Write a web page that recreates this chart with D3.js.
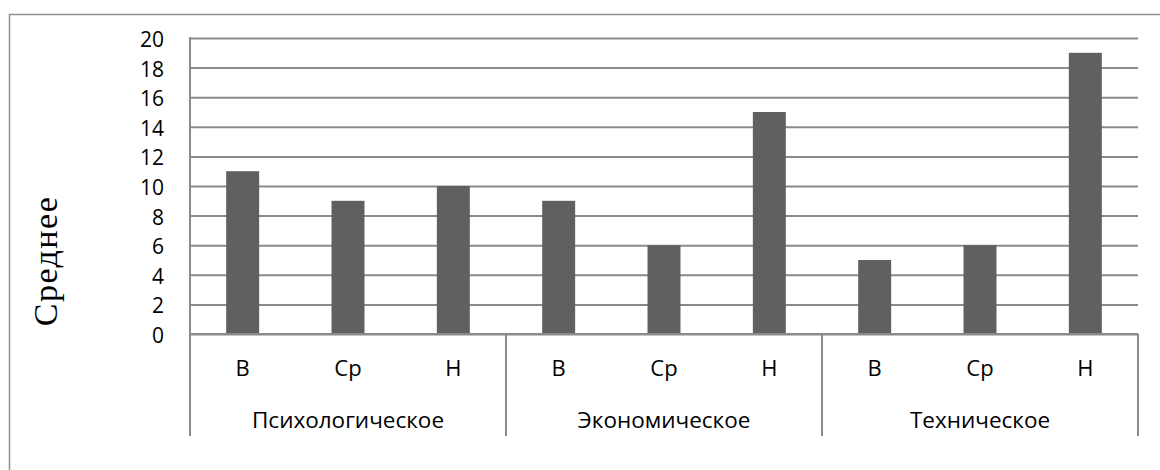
<!DOCTYPE html>
<html>
<head>
<meta charset="utf-8">
<script src="https://cdn.jsdelivr.net/npm/d3@7"></script>
<style>
  html, body { margin: 0; padding: 0; background: #fff; }
  svg { display: block; }
  .tick-label { font-family: "Open Sans", "Noto Sans", sans-serif; fill: #000; }
</style>
</head>
<body>
<svg id="chart" width="1160" height="470"></svg>
<script>
// Mean values by direction (group) and level (В / Ср / Н)
const groups = ["Психологическое", "Экономическое", "Техническое"];
const levels = ["В", "Ср", "Н"];
const psychValues = [11, 9, 10];
const econValues = [9, 6, 15];
const techValues = [5, 6, 19];
const yTicks = [0, 2, 4, 6, 8, 10, 12, 14, 16, 18, 20];
const yTitle = "Среднее";

const groupValues = [psychValues, econValues, techValues];
const rows = [];
groups.forEach((g, gi) => {
  levels.forEach((l, li) => {
    rows.push({ key: g + "|" + l, group: g, level: l, value: groupValues[gi][li] });
  });
});

const svg = d3.select("#chart");
const W = 1160, H = 470;
const plot = { left: 190, right: 1138, top: 38, bottom: 334 };

// Chart frame
svg.append("rect")
  .attr("x", 9.5).attr("y", 14.5)
  .attr("width", W + 20).attr("height", H + 20)
  .attr("fill", "none")
  .attr("stroke", "#8f8f8f")
  .attr("stroke-width", 1.5);

const x = d3.scaleBand()
  .domain(rows.map(d => d.key))
  .range([plot.left, plot.right])
  .paddingInner(0.687)
  .paddingOuter(0.3435);

const y = d3.scaleLinear()
  .domain([0, 20])
  .range([plot.bottom, plot.top]);

// Gridlines and y tick labels
const yAxis = d3.axisLeft(y)
  .tickValues(yTicks)
  .tickSize(-(plot.right - plot.left))
  .tickPadding(26)
  .tickFormat(d3.format("d"));

const gy = svg.append("g")
  .attr("transform", `translate(${plot.left},0)`)
  .call(yAxis);
gy.select(".domain").remove();
gy.selectAll(".tick line")
  .attr("stroke", "#8a8a8a")
  .attr("stroke-width", 2);
gy.selectAll(".tick text")
  .attr("class", "tick-label")
  .attr("font-size", 21)
  .attr("dy", "0.4em");

// Vertical axis line
svg.append("line")
  .attr("x1", plot.left).attr("x2", plot.left)
  .attr("y1", plot.top - 1).attr("y2", plot.bottom)
  .attr("stroke", "#8a8a8a").attr("stroke-width", 2);

// Bars
svg.append("g")
  .selectAll("rect")
  .data(rows)
  .join("rect")
  .attr("x", d => x(d.key))
  .attr("y", d => y(d.value))
  .attr("width", x.bandwidth())
  .attr("height", d => y(0) - y(d.value))
  .attr("fill", "#606060");

// Baseline (zero line) redrawn on top
svg.append("line")
  .attr("x1", plot.left).attr("x2", plot.right)
  .attr("y1", y(0)).attr("y2", y(0))
  .attr("stroke", "#8a8a8a").attr("stroke-width", 2);

// Multi-level category axis
const step = x.step();
const sepBottom = 436;
d3.range(groups.length + 1).forEach(i => {
  const sx = plot.left + i * 3 * step;
  svg.append("line")
    .attr("x1", sx).attr("x2", sx)
    .attr("y1", y(0)).attr("y2", sepBottom)
    .attr("stroke", "#8a8a8a").attr("stroke-width", 2);
});

svg.append("g")
  .selectAll("text")
  .data(rows)
  .join("text")
  .attr("class", "tick-label")
  .attr("x", d => x(d.key) + x.bandwidth() / 2)
  .attr("y", 376)
  .attr("text-anchor", "middle")
  .attr("font-size", 22)
  .text(d => d.level);

svg.append("g")
  .selectAll("text")
  .data(groups)
  .join("text")
  .attr("class", "tick-label")
  .attr("x", (g, i) => plot.left + (i + 0.5) * 3 * step)
  .attr("y", 428)
  .attr("text-anchor", "middle")
  .attr("font-size", 22.5)
  .text(g => g);

// Y axis title
svg.append("text")
  .attr("transform", "translate(57,261) rotate(-90)")
  .attr("text-anchor", "middle")
  .attr("font-family", "'Liberation Serif', 'Times New Roman', serif")
  .attr("font-size", 34)
  .attr("letter-spacing", 1.5)
  .attr("fill", "#000")
  .text(yTitle);
</script>
</body>
</html>
